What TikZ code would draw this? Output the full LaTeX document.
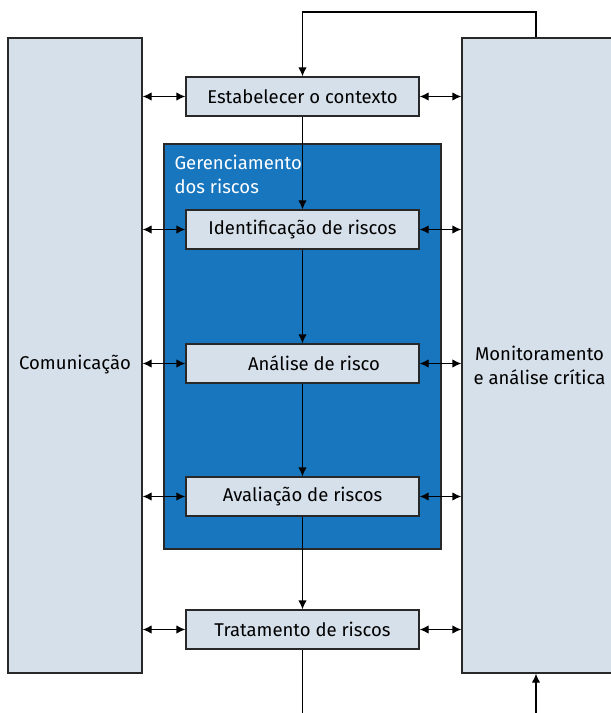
\documentclass[tikz,border=0pt]{standalone}
\usepackage{fontspec}
\setmainfont{Fira Sans}
\usetikzlibrary{arrows.meta,positioning}
\definecolor{boxfill}{RGB}{214,224,234}
\definecolor{mgmtblue}{RGB}{23,118,190}
\definecolor{edgegray}{RGB}{40,40,40}

\begin{document}
\begin{tikzpicture}[x=1pt,y=-1pt,>={Latex[length=9pt,width=8.5pt]},
  line/.style={line width=1.3pt,draw=black},
  bigfont/.style={font=\fontsize{18.5}{24}\selectfont},
  stepbox/.style={draw=edgegray,line width=1.3pt,fill=boxfill,minimum width=233pt,minimum height=39pt,inner sep=0pt,bigfont},
  sidebox/.style={draw=edgegray,line width=1.3pt,fill=boxfill,minimum height=635pt,inner sep=0pt}]
\useasboundingbox (0,0) rectangle (611,713);
% side columns
\node[sidebox,minimum width=134pt,label={[bigfont,yshift=-9pt]center:Comunicação}] (comun) at (75,355.5) {};
\node[sidebox,minimum width=155pt,label={[bigfont,align=center,yshift=-9.5pt]center:Monitoramento\\e análise crítica}] (monit) at (539.5,355.5) {};
% risk management block
\node[draw=edgegray,line width=1.3pt,fill=mgmtblue,minimum width=277pt,minimum height=405pt] (mgmt) at (302.5,346.5) {};
\node[anchor=north west,inner sep=0pt,text=white,align=left,bigfont] (mgmtlbl) at ([xshift=11pt,yshift=-12pt]mgmt.north west) {Gerenciamento\\dos riscos};
% process steps
\node[stepbox] (estab) at (302.5,96.5) {Estabelecer o contexto};
\node[stepbox] (ident) at (302.5,229.5) {Identificação de riscos};
\node[stepbox] (anal) at (302.5,363.5) {\hspace*{23pt}Análise de risco};
\node[stepbox] (aval) at (302.5,496.5) {Avaliação de riscos};
\node[stepbox] (trat) at (302.5,629.5) {Tratamento de riscos};
% flow down
\draw[line,->] (estab) -- (ident);
\draw[line,->] (ident) -- (anal);
\draw[line,->] (anal) -- (aval);
\draw[line,->] (aval) -- (trat);
% links to the side columns
\foreach \s in {estab,ident,anal,aval,trat}{
  \draw[line,<->] (comun.east |- \s) -- (\s.west);
  \draw[line,<->] (\s.east) -- (monit.west |- \s);
}
% feedback loop and open ends
\coordinate (loopR) at (536,12);
\coordinate (outB) at (302.5,713);
\coordinate (inB) at (536,713);
\draw[line,->] (monit.north -| loopR) -- (loopR) -| (estab.north);
\draw[line] (trat) -- (outB);
\draw[line,->] (inB) -- (monit.south -| inB);
\end{tikzpicture}
\end{document}
